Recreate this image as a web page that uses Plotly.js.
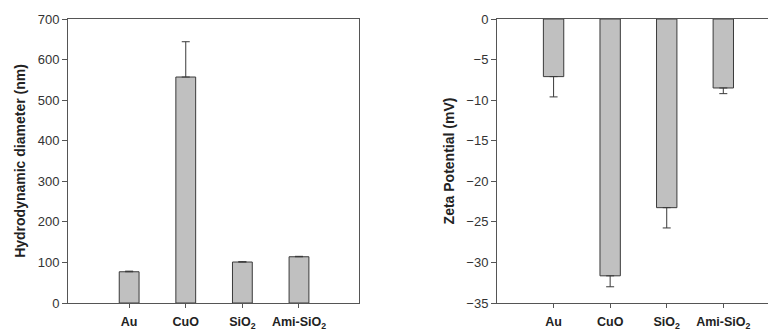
<!DOCTYPE html>
<html><head><meta charset="utf-8">
<script src="https://cdn.plot.ly/plotly-3.0.1.min.js"></script>
<style>html,body{margin:0;padding:0;background:#fff}#chart{width:768px;height:331px}</style>
</head><body><div id="chart"></div>
<script>
const categories = ["Au", "CuO", "SiO<sub>2</sub>", "Ami-SiO<sub>2</sub>"];
const diameter = [77, 557, 101, 114];
const diameterErr = [1.5, 87, 0.8, 1];
const zeta = [-7.1, -31.65, -23.25, -8.5];
const zetaErr = [2.5, 1.35, 2.5, 0.7];
const diameterTicks = [0, 100, 200, 300, 400, 500, 600, 700];
const zetaTicks = [0, -5, -10, -15, -20, -25, -30, -35];

const barStyle = {color: '#c0c0c0', line: {color: '#3a3a3a', width: 1}};
const idx = categories.map((c, i) => i);

const traces = [
  {type: 'bar', x: idx, y: diameter, xaxis: 'x', yaxis: 'y', width: 0.35,
   marker: barStyle,
   error_y: {type: 'data', symmetric: false, array: diameterErr, arrayminus: diameterErr.map(() => 0),
             color: '#3a3a3a', thickness: 1, width: 4}},
  {type: 'bar', x: idx, y: zeta, xaxis: 'x2', yaxis: 'y2', width: 0.36,
   marker: barStyle,
   error_y: {type: 'data', symmetric: false, array: zeta.map(() => 0), arrayminus: zetaErr,
             color: '#3a3a3a', thickness: 1, width: 4}}
];

const tickFont = {family: 'Liberation Sans, Arial, sans-serif', size: 13, color: '#333'};
const xTickFont = {family: 'Liberation Sans, Arial, sans-serif', size: 12.5, color: '#222', weight: 'bold'};
const titleFont = {family: 'Liberation Sans, Arial, sans-serif', size: 14, color: '#222', weight: 'bold'};
const lineCol = '#555';

const layout = {
  width: 768, height: 331,
  margin: {l: 0, r: 0, t: 19, b: 28},
  paper_bgcolor: '#fff', plot_bgcolor: '#fff',
  showlegend: false,
  xaxis: {domain: [68/768, 359/768], range: [-1.08, 4.06], tickvals: idx, ticktext: categories,
          showline: true, mirror: true, linecolor: lineCol, linewidth: 1,
          ticks: 'outside', ticklen: 4, tickcolor: lineCol, showgrid: false, zeroline: false,
          tickfont: xTickFont, ticklabelstandoff: 3, fixedrange: true},
  yaxis: {domain: [0, 1], range: [0, 700], tickvals: diameterTicks,
          showline: true, mirror: true, linecolor: lineCol, linewidth: 1,
          ticks: 'outside', ticklen: 5, tickcolor: lineCol, showgrid: false, zeroline: false,
          tickfont: tickFont, anchor: 'x',
          title: {text: 'Hydrodynamic diameter (nm)', font: titleFont, standoff: 8}},
  xaxis2: {domain: [497/768, 1], range: [-1.0, 3.79], tickvals: idx, ticktext: categories,
           showline: true, mirror: true, linecolor: lineCol, linewidth: 1, anchor: 'y2',
           ticks: 'outside', ticklen: 4, tickcolor: lineCol, showgrid: false, zeroline: false,
           tickfont: xTickFont, ticklabelstandoff: 3, fixedrange: true},
  yaxis2: {domain: [0, 1], range: [-35, 0], tickvals: zetaTicks, anchor: 'x2',
           showline: true, mirror: false, linecolor: lineCol, linewidth: 1,
           ticks: 'outside', ticklen: 5, tickcolor: lineCol, showgrid: false, zeroline: false,
           tickfont: tickFont,
           title: {text: 'Zeta Potential (mV)', font: titleFont, standoff: 8}}
};

Plotly.newPlot('chart', traces, layout, {displayModeBar: false, staticPlot: true});
</script></body></html>
